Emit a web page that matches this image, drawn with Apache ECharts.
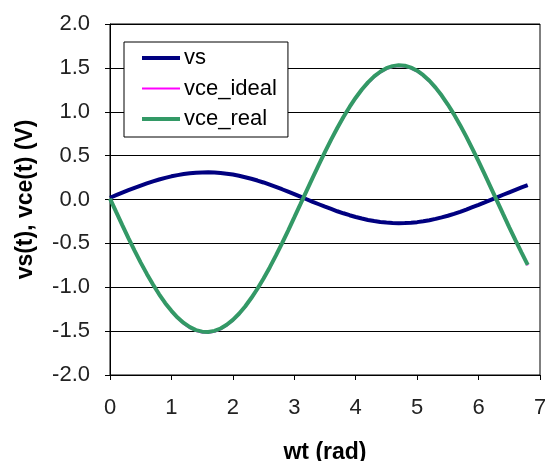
<!DOCTYPE html>
<html>
<head>
<meta charset="utf-8">
<script src="https://cdn.jsdelivr.net/npm/echarts@6/dist/echarts.min.js"></script>
<style>
  html, body { margin: 0; padding: 0; background: #fff; }
  #chart { width: 545px; height: 461px; }
</style>
</head>
<body>
<div id="chart"></div>
<script>
// Sample instants wt (rad)
const wt = [
  0.0, 0.1, 0.2, 0.3, 0.4, 0.5, 0.6, 0.7, 0.8, 0.9,
  1.0, 1.1, 1.2, 1.3, 1.4, 1.5, 1.6, 1.7, 1.8, 1.9,
  2.0, 2.1, 2.2, 2.3, 2.4, 2.5, 2.6, 2.7, 2.8, 2.9,
  3.0, 3.1, 3.2, 3.3, 3.4, 3.5, 3.6, 3.7, 3.8, 3.9,
  4.0, 4.1, 4.2, 4.3, 4.4, 4.5, 4.6, 4.7, 4.8, 4.9,
  5.0, 5.1, 5.2, 5.3, 5.4, 5.5, 5.6, 5.7, 5.8, 5.9,
  6.0, 6.1, 6.2, 6.3, 6.4, 6.5, 6.6, 6.7, 6.8
];

// Source voltage vs(t) (V)
const vs = [
  0.020, 0.049, 0.078, 0.106, 0.133, 0.159, 0.184, 0.207, 0.228, 0.247,
  0.264, 0.278, 0.290, 0.299, 0.306, 0.309, 0.310, 0.308, 0.302, 0.294,
  0.284, 0.270, 0.254, 0.236, 0.216, 0.194, 0.169, 0.144, 0.117, 0.089,
  0.061, 0.032, 0.003, -0.026, -0.054, -0.082, -0.108, -0.134, -0.157, -0.179,
  -0.199, -0.217, -0.233, -0.246, -0.256, -0.263, -0.268, -0.270, -0.269, -0.265,
  -0.258, -0.248, -0.236, -0.221, -0.204, -0.185, -0.163, -0.140, -0.115, -0.088,
  -0.061, -0.033, -0.004, 0.025, 0.054, 0.082, 0.110, 0.137, 0.163
];

// Collector-emitter voltage, ideal amplifier (V)
const vceIdeal = [
  0.000, -0.152, -0.302, -0.449, -0.592, -0.729, -0.858, -0.979, -1.090, -1.191,
  -1.279, -1.355, -1.417, -1.465, -1.498, -1.516, -1.519, -1.507, -1.480, -1.438,
  -1.382, -1.312, -1.229, -1.133, -1.027, -0.910, -0.784, -0.650, -0.509, -0.364,
  -0.214, -0.063, 0.089, 0.240, 0.388, 0.533, 0.673, 0.805, 0.930, 1.045,
  1.150, 1.244, 1.325, 1.393, 1.446, 1.486, 1.510, 1.520, 1.514, 1.493,
  1.458, 1.407, 1.343, 1.265, 1.175, 1.072, 0.960, 0.837, 0.706, 0.568,
  0.425, 0.277, 0.126, -0.026, -0.177, -0.327, -0.473, -0.615, -0.751
];

// Collector-emitter voltage, real amplifier (V)
const vceReal = [
  0.010, -0.142, -0.292, -0.439, -0.582, -0.719, -0.848, -0.969, -1.080, -1.181,
  -1.269, -1.345, -1.407, -1.455, -1.488, -1.506, -1.509, -1.497, -1.470, -1.428,
  -1.372, -1.302, -1.219, -1.123, -1.017, -0.900, -0.774, -0.640, -0.499, -0.354,
  -0.204, -0.053, 0.099, 0.250, 0.398, 0.543, 0.683, 0.815, 0.940, 1.055,
  1.160, 1.254, 1.335, 1.403, 1.456, 1.496, 1.520, 1.530, 1.524, 1.503,
  1.468, 1.417, 1.353, 1.275, 1.185, 1.082, 0.970, 0.847, 0.716, 0.578,
  0.435, 0.287, 0.136, -0.016, -0.167, -0.317, -0.463, -0.605, -0.745
];

const seriesNames = ['vs', 'vce_ideal', 'vce_real'];
const xTicks = { min: 0, max: 7, step: 1 };
const yTicks = { min: -2, max: 2, step: 0.5 };

const pairs = (ys) => wt.map((t, i) => [t, ys[i]]);
const FONT = '"Liberation Sans", Arial, sans-serif';

const chart = echarts.init(document.getElementById('chart'), null, { renderer: 'canvas' });

chart.setOption({
  animation: false,
  backgroundColor: '#ffffff',
  grid: {
    left: 110, right: 5, top: 24, bottom: 86,
    outerBoundsMode: 'none',
    containLabel: false,
    show: true, borderColor: '#000', borderWidth: 1, backgroundColor: 'transparent'
  },
  legend: {
    data: seriesNames,
    orient: 'vertical',
    left: 124, top: 42,
    padding: [5, 11, 7, 16],
    itemGap: 8.5,
    itemWidth: 38, itemHeight: 22,
    backgroundColor: '#fff',
    borderColor: '#000', borderWidth: 1, borderRadius: 0,
    itemStyle: { opacity: 0 },
    lineStyle: { width: 'inherit' },
    textStyle: { fontFamily: FONT, fontSize: 22, color: '#000', padding: [0, 0, 0, -1] }
  },
  xAxis: {
    type: 'value',
    min: xTicks.min, max: xTicks.max, interval: xTicks.step,
    name: 'wt (rad)', nameLocation: 'middle', nameGap: 66,
    nameTextStyle: { fontFamily: FONT, fontSize: 23, fontWeight: 'bold', color: '#000' },
    axisLine: { onZero: false, lineStyle: { color: '#000', width: 1 } },
    axisTick: { show: true, inside: false, length: 5, lineStyle: { color: '#000' } },
    axisLabel: { fontFamily: FONT, fontSize: 22, color: '#222', margin: 22 },
    splitLine: { show: false }
  },
  yAxis: {
    type: 'value',
    min: yTicks.min, max: yTicks.max, interval: yTicks.step,
    name: 'vs(t), vce(t) (V)', nameLocation: 'middle', nameGap: 73,
    nameTextStyle: { fontFamily: FONT, fontSize: 23, fontWeight: 'bold', color: '#000' },
    axisLine: { show: true, lineStyle: { color: '#000', width: 1 } },
    axisTick: { show: true, inside: false, length: 5, lineStyle: { color: '#000' } },
    axisLabel: {
      fontFamily: FONT, fontSize: 22, color: '#222', margin: 20,
      formatter: (v) => v.toFixed(1)
    },
    splitLine: { show: true, lineStyle: { color: '#000', width: 1 } }
  },
  series: [
    {
      name: seriesNames[0], type: 'line', data: pairs(vs),
      symbol: 'none', smooth: false, z: 3,
      lineStyle: { color: '#000080', width: 4 }, itemStyle: { color: '#000080' }
    },
    {
      name: seriesNames[1], type: 'line', data: pairs(vceIdeal),
      symbol: 'none', smooth: false, z: 2,
      lineStyle: { color: '#FF00FF', width: 2 }, itemStyle: { color: '#FF00FF' }
    },
    {
      name: seriesNames[2], type: 'line', data: pairs(vceReal),
      symbol: 'none', smooth: false, z: 4,
      lineStyle: { color: '#339966', width: 4 }, itemStyle: { color: '#339966' }
    }
  ]
});
</script>
</body>
</html>
